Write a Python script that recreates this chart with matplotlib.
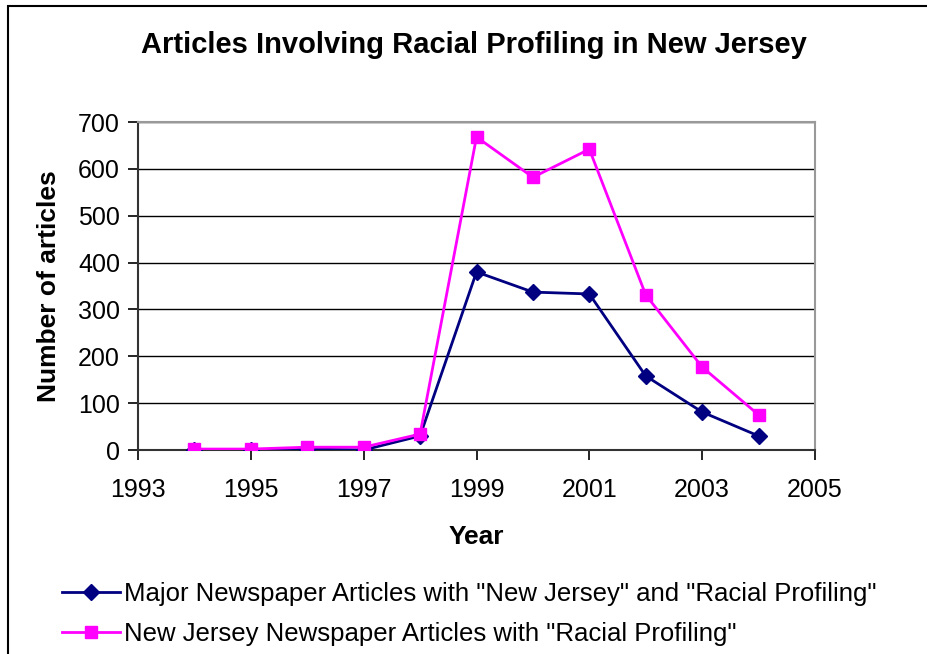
import matplotlib
matplotlib.use("Agg")
import matplotlib.pyplot as plt
from matplotlib.patches import Rectangle
from matplotlib.lines import Line2D

years = [1994, 1995, 1996, 1997, 1998, 1999, 2000, 2001, 2002, 2003, 2004]
major_papers = [0, 0, 2, 0, 30, 380, 337, 333, 158, 81, 30]
nj_papers = [2, 2, 6, 6, 34, 668, 582, 642, 331, 177, 75]

series_labels = [
    'Major Newspaper Articles with "New Jersey" and "Racial Profiling"',
    'New Jersey Newspaper Articles with "Racial Profiling"',
]
title = "Articles Involving Racial Profiling in New Jersey"
x_ticks = [1993, 1995, 1997, 1999, 2001, 2003, 2005]
y_ticks = [0, 100, 200, 300, 400, 500, 600, 700]

plt.rcParams["font.family"] = ["Liberation Sans", "DejaVu Sans"]

fig = plt.figure(figsize=(9.27, 6.54), dpi=100)
fig.patch.set_facecolor("white")

# outer chart border (left and top edges visible)
fig.add_artist(Rectangle((8 / 927, -0.2), 1.5, 1 - 6 / 654 + 0.2,
                         transform=fig.transFigure, fill=False,
                         edgecolor="black", linewidth=1.5, clip_on=False))

ax = fig.add_axes([138 / 927, 204 / 654, 677 / 927, 328 / 654])

navy = "#000080"
magenta = "#FF00FF"
ax.plot(years, major_papers, color=navy, linewidth=2, marker="D",
        markersize=8, markeredgecolor=navy, markerfacecolor=navy, zorder=3)
ax.plot(years, nj_papers, color=magenta, linewidth=2, marker="s",
        markersize=9, markeredgecolor=magenta, markerfacecolor=magenta, zorder=4)

ax.set_xlim(1993, 2005)
ax.set_ylim(0, 700)
ax.set_xticks(x_ticks)
ax.set_yticks(y_ticks)
ax.tick_params(axis="both", direction="out", length=7, width=1.2,
               labelsize=18, color="black")
ax.tick_params(axis="x", pad=13)
ax.tick_params(axis="y", pad=6)
ax.yaxis.grid(True, color="black", linewidth=1)
ax.set_axisbelow(True)

for side in ("top", "right"):
    ax.spines[side].set_color("#999999")
    ax.spines[side].set_linewidth(1.5)
for side in ("left", "bottom"):
    ax.spines[side].set_color("#333333")
    ax.spines[side].set_linewidth(1.5)

ax.set_xlabel("Year", fontsize=19, fontweight="bold", labelpad=17)
ax.set_ylabel("Number of articles", fontsize=19, fontweight="bold", labelpad=12)

fig.text(474 / 927, 1 - 45 / 654, title, ha="center", va="center",
         fontsize=21, fontweight="bold")

handles = [
    Line2D([], [], color=navy, linewidth=2, marker="D", markersize=8),
    Line2D([], [], color=magenta, linewidth=2, marker="s", markersize=9),
]
fig.legend(handles, series_labels, loc="upper left",
           bbox_to_anchor=(52 / 927, 1 - 572 / 654), frameon=False,
           fontsize=18.5, handlelength=2.25, handletextpad=0.15,
           labelspacing=0.6, borderaxespad=0)

fig.savefig("out.png", dpi=100)
